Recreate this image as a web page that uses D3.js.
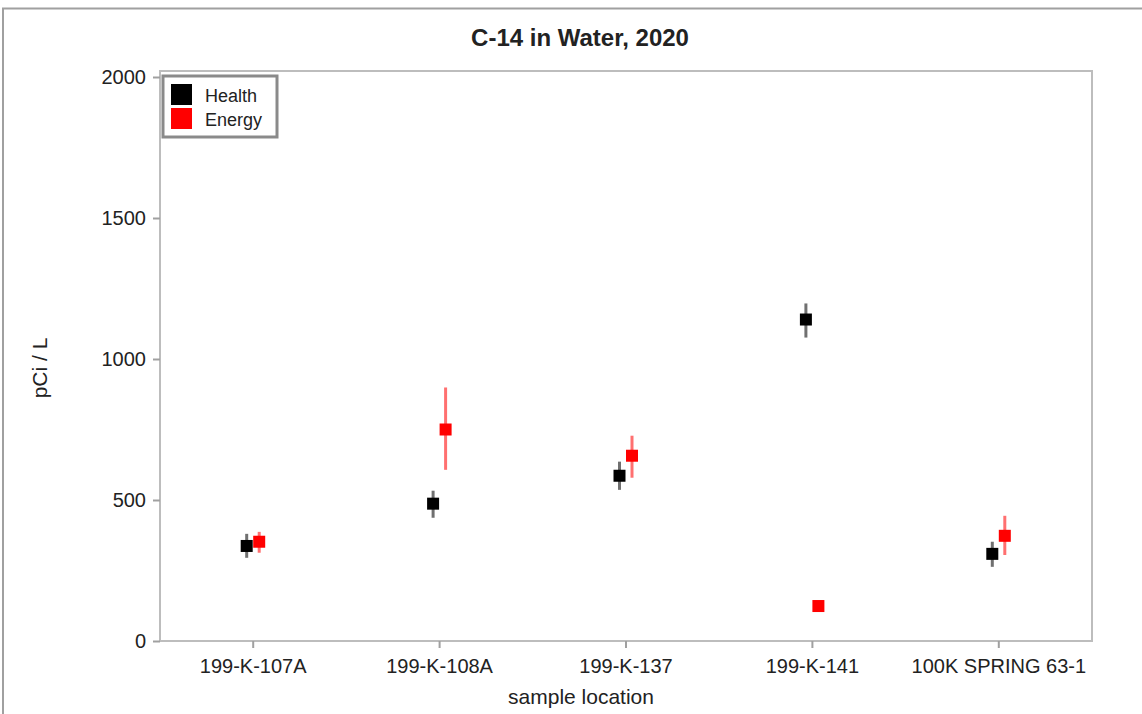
<!DOCTYPE html>
<html><head><meta charset="utf-8">
<script src="https://cdn.jsdelivr.net/npm/d3@7"></script>
<style>body{margin:0;background:#fff;}svg{display:block;font-family:"Liberation Sans",Arial,sans-serif;}</style>
</head><body>
<svg id="c" width="1142" height="714"></svg>
<script>
const categories = ["199-K-107A","199-K-108A","199-K-137","199-K-141","100K SPRING 63-1"];
const healthValues = [337, 487, 586, 1140, 309];
const healthLow    = [295, 437, 536, 1076, 263];
const healthHigh   = [380, 533, 636, 1197, 352];
const energyValues = [352, 750, 657, 124, 373];
const energyLow    = [313, 607, 579, 114, 305];
const energyHigh   = [387, 899, 728, 134, 444];
const yTicks = [0, 500, 1000, 1500, 2000];
const seriesNames = ["Health","Energy"];

const svg = d3.select("#c");
const L=160, R=1092, T=71, B=641;

// outer border
svg.append("path").attr("d","M3,714 L3,8.5 L1142,8.5").attr("fill","none").attr("stroke","#a0a0a0").attr("stroke-width",2);

const x = d3.scaleBand().domain(categories).range([L,R]);
const y = d3.scaleLinear().domain([0,2000]).range([B,77]);

// frame
svg.append("rect").attr("x",L).attr("y",T).attr("width",R-L).attr("height",B-T)
  .attr("fill","none").attr("stroke","#bdbdbd").attr("stroke-width",2);

// y axis
const ya = svg.append("g").attr("transform",`translate(${L},0)`)
  .call(d3.axisLeft(y).tickValues(yTicks).tickSize(7).tickPadding(7).tickFormat(d3.format("d")));
ya.select(".domain").remove();
ya.selectAll("line").attr("stroke","#a0a0a0").attr("stroke-width",2);
ya.selectAll("text").attr("font-size",20).attr("fill","#222").attr("font-family","Liberation Sans, Arial, sans-serif");

// x axis
const xa = svg.append("g").attr("transform",`translate(0,${B})`)
  .call(d3.axisBottom(x).tickSize(7).tickPadding(11));
xa.select(".domain").remove();
xa.selectAll("line").attr("stroke","#a0a0a0").attr("stroke-width",2);
xa.selectAll("text").attr("font-size",20).attr("fill","#222").attr("font-family","Liberation Sans, Arial, sans-serif");

// titles
svg.append("text").attr("x",580).attr("y",46).attr("text-anchor","middle")
  .attr("font-size",24).attr("font-weight","bold").attr("fill","#222").text("C-14 in Water, 2020");
svg.append("text").attr("x",581).attr("y",704).attr("text-anchor","middle")
  .attr("font-size",21).attr("fill","#222").text("sample location");
svg.append("text").attr("transform","translate(47,368) rotate(-90)").attr("text-anchor","middle")
  .attr("font-size",21).attr("fill","#222").text("pCi / L");

const series = [
  {vals:healthValues, lo:healthLow, hi:healthHigh, off:-6.5, color:"#000", bar:"#707070"},
  {vals:energyValues, lo:energyLow, hi:energyHigh, off:6, color:"#ff0000", bar:"#ff7070"}
];
series.forEach(s=>{
  const g = svg.append("g");
  categories.forEach((c,i)=>{
    const cx = x(c)+x.bandwidth()/2+s.off;
    g.append("line").attr("x1",cx).attr("x2",cx).attr("y1",y(s.lo[i])).attr("y2",y(s.hi[i]))
      .attr("stroke",s.bar).attr("stroke-width",3);
    g.append("rect").attr("x",cx-6).attr("y",y(s.vals[i])-6).attr("width",12).attr("height",12)
      .attr("fill",s.color);
  });
});

// legend
const lg = svg.append("g");
lg.append("rect").attr("x",163).attr("y",76).attr("width",114).attr("height",61)
  .attr("fill","#fff").attr("stroke","#8a8a8a").attr("stroke-width",3);
seriesNames.forEach((n,i)=>{
  lg.append("rect").attr("x",171).attr("y",84+i*24).attr("width",21).attr("height",21)
    .attr("fill",series[i].color);
  lg.append("text").attr("x",205).attr("y",102+i*24).attr("font-size",18).attr("fill","#222").text(n);
});
</script>
</body></html>
